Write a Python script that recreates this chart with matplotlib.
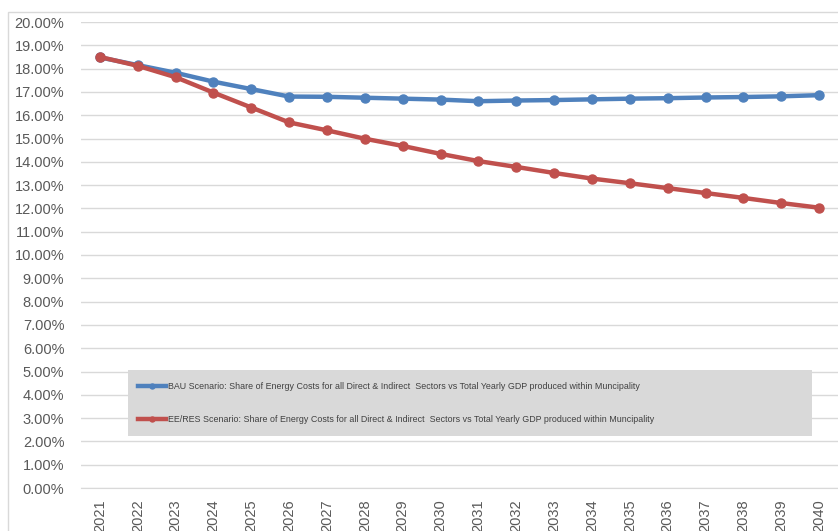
import matplotlib
matplotlib.use('Agg')
import matplotlib.pyplot as plt
from matplotlib.patches import Rectangle
from matplotlib.ticker import PercentFormatter

years = list(range(2021, 2041))
bau = [18.48, 18.15, 17.82, 17.44, 17.12, 16.80, 16.79, 16.75, 16.71, 16.67,
       16.60, 16.63, 16.65, 16.68, 16.71, 16.73, 16.76, 16.78, 16.81, 16.86]
eeres = [18.50, 18.12, 17.63, 16.97, 16.33, 15.69, 15.35, 14.99, 14.68, 14.34,
         14.03, 13.78, 13.52, 13.28, 13.08, 12.87, 12.66, 12.45, 12.23, 12.03]

bau_label = ('BAU Scenario: Share of Energy Costs for all Direct & Indirect  '
             'Sectors vs Total Yearly GDP produced within Muncipality')
ee_label = ('EE/RES Scenario: Share of Energy Costs for all Direct & Indirect  '
            'Sectors vs Total Yearly GDP produced within Muncipality')

plt.rcParams['font.family'] = ['Liberation Sans', 'DejaVu Sans']

fig = plt.figure(figsize=(8.38, 5.31), dpi=100)
# light outer border of the chart area
fig.patches.append(Rectangle((8 / 838, -0.1), 1.0, 1 - 12 / 531 + 0.1,
                             transform=fig.transFigure, fill=False,
                             edgecolor='#d9d9d9', linewidth=1))

ax = fig.add_axes([81 / 838, 43 / 531, 1 - 81 / 838, (488 - 22) / 531])

ax.plot(years, bau, color='#4f81bd', lw=3.2, marker='o', ms=6.5,
        label=bau_label, zorder=3)
ax.plot(years, eeres, color='#c0504d', lw=3.2, marker='o', ms=6.5,
        label=ee_label, zorder=3)

ax.set_xlim(2020.5, 2040.5)
ax.set_ylim(0, 20)
ax.set_yticks(range(0, 21))
ax.yaxis.set_major_formatter(PercentFormatter(decimals=2))
ax.set_xticks(years)
ax.set_xticklabels([str(y) for y in years], rotation=90)
ax.grid(axis='y', color='#d9d9d9', lw=1)
ax.set_axisbelow(True)
for s in ['top', 'right', 'left']:
    ax.spines[s].set_visible(False)
ax.spines['bottom'].set_color('#d9d9d9')
ax.tick_params(axis='both', length=0, colors='#595959', labelsize=10.5)
ax.tick_params(axis='y', pad=12)
ax.tick_params(axis='x', pad=8)

# grey legend panel
ax.add_patch(Rectangle((0.062, 0.112), 0.904, 0.141, transform=ax.transAxes,
                       facecolor='#d9d9d9', edgecolor='none', zorder=4))
leg = ax.legend(loc='upper left', bbox_to_anchor=(0.058, 0.256),
                frameon=False, fontsize=6.4, handlelength=3.1,
                handletextpad=0.3, labelspacing=2.75, borderpad=1.0,
                markerscale=0.55)
leg.set_zorder(5)
for t in leg.get_texts():
    t.set_color('#404040')

fig.savefig('out.png', dpi=100)
